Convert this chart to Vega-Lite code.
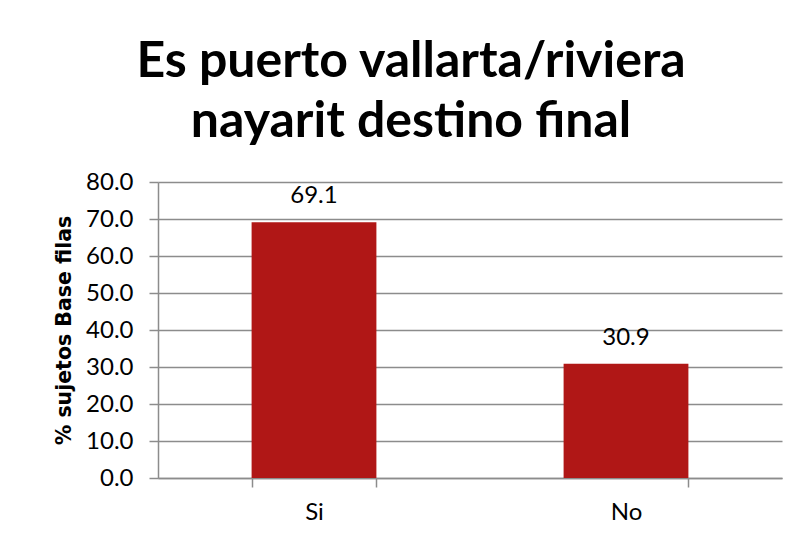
{
  "$schema": "https://vega.github.io/schema/vega-lite/v6.json",
  "autosize": {"type": "none"},
  "width": 624,
  "height": 296,
  "padding": {"left": 158, "top": 182, "right": 17, "bottom": 58},
  "background": "white",
  "data": {"values": [
    {"respuesta": "Si", "pct": 69.1},
    {"respuesta": "No", "pct": 30.9}
  ]},
  "title": {
    "text": ["Es puerto vallarta/riviera", "nayarit destino final"],
    "font": "Lato",
    "fontWeight": "bold",
    "fontSize": 50,
    "lineHeight": 60,
    "color": "#000000",
    "anchor": "middle",
    "frame": "group",
    "dx": -59,
    "offset": 23
  },
  "config": {
    "view": {"stroke": null},
    "axis": {"labelFont": "Lato", "titleFont": "DejaVu Sans", "labelColor": "#000000", "titleColor": "#000000"}
  },
  "encoding": {
    "x": {
      "field": "respuesta", "type": "nominal", "sort": ["Si", "No"],
      "scale": {"paddingInner": 0.6, "paddingOuter": 0.3},
      "axis": {
        "title": null, "labelAngle": 0, "labelFontSize": 24, "labelPadding": 13,
        "tickBand": "extent", "tickSize": 9, "tickColor": "#8c8c8c", "tickWidth": 1.5,
        "domainColor": "#8c8c8c", "domainWidth": 1.5
      }
    },
    "y": {
      "field": "pct", "type": "quantitative",
      "scale": {"domain": [0, 80]},
      "axis": {
        "title": "% sujetos Base filas", "titleFontSize": 20.5, "titleFontWeight": "bold",
        "titlePadding": 11,
        "values": [0, 10, 20, 30, 40, 50, 60, 70, 80], "format": ".1f",
        "labelOverlap": false,
        "labelFontSize": 24, "labelPadding": 16,
        "tickSize": 9, "tickColor": "#8c8c8c", "tickWidth": 1.5,
        "domainColor": "#8c8c8c", "domainWidth": 1.5,
        "grid": true, "gridColor": "#8c8c8c", "gridWidth": 1.5
      }
    }
  },
  "layer": [
    {
      "mark": {"type": "bar", "color": "#B01716"}
    },
    {
      "mark": {"type": "text", "fontSize": 24, "font": "Lato", "color": "#000000", "baseline": "alphabetic", "dy": -19},
      "encoding": {
        "text": {"field": "pct", "type": "quantitative", "format": ".1f"}
      }
    }
  ]
}
